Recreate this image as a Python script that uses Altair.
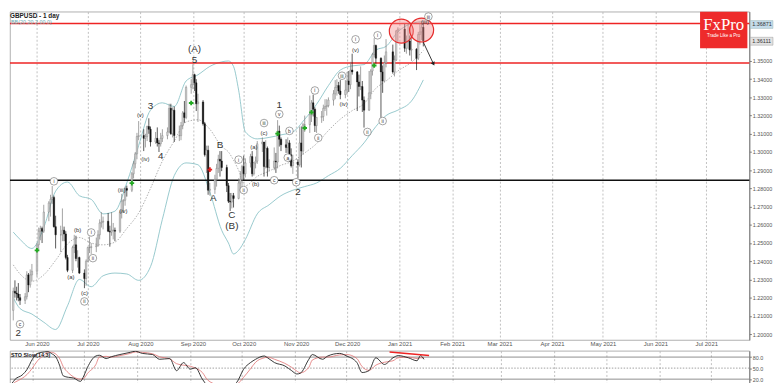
import altair as alt
import pandas as pd

# ---------------- GBPUSD daily candles ----------------
OPEN = [
    # May 2020
    1.2130, 1.2235, 1.2225, 1.2220, 1.2200, 1.2185, 1.2205, 1.2325, 1.2270, 1.2325,
    # Jun
    1.2345, 1.2490, 1.2565, 1.2580, 1.2565, 1.2670, 1.2720, 1.2740, 1.2750, 1.2590, 1.2545,
    1.2545, 1.2570, 1.2550, 1.2420, 1.2350, 1.2475, 1.2490, 1.2415, 1.2420, 1.2335, 1.2305,
    # Jul
    1.2400, 1.2475, 1.2475, 1.2480, 1.2485, 1.2545, 1.2610, 1.2615, 1.2620, 1.2565, 1.2560, 1.2570,
    1.2570, 1.2565, 1.2670, 1.2730, 1.2735, 1.2800, 1.2790, 1.2880, 1.2935, 1.2990, 1.3085,
    # Aug
    1.3090, 1.3075, 1.3085, 1.3140, 1.3125, 1.3055, 1.3075, 1.3050, 1.3045, 1.3075, 1.3090,
    1.3110, 1.3240, 1.3100, 1.3230, 1.3090, 1.3090, 1.3145, 1.3215, 1.3190, 1.3355,
    # Sep
    1.3370, 1.3425, 1.3380, 1.3265, 1.3275, 1.3155, 1.2985, 1.3010, 1.2790, 1.2795, 1.2850,
    1.2910, 1.2960, 1.2950, 1.2915, 1.2815, 1.2730, 1.2725, 1.2760, 1.2745, 1.2830, 1.2850,
    # Oct
    1.2920, 1.2880, 1.2940, 1.2975, 1.2880, 1.2940, 1.2950, 1.3045, 1.3055, 1.2920, 1.3020,
    1.2915, 1.2915, 1.2950, 1.2945, 1.3115, 1.3070, 1.3040, 1.3025, 1.3050, 1.2985, 1.2925,
    # Nov
    1.2945, 1.2930, 1.3050, 1.3005, 1.3150, 1.3150, 1.3205, 1.3270, 1.3235, 1.3145, 1.3190,
    1.3195, 1.3240, 1.3250, 1.3255, 1.3285, 1.3320, 1.3355, 1.3365, 1.3335, 1.3315,
    # Dec
    1.3340, 1.3390, 1.3370, 1.3450, 1.3440, 1.3385, 1.3360, 1.3360, 1.3285, 1.3230, 1.3325,
    1.3445, 1.3535, 1.3585, 1.3515, 1.3440, 1.3390, 1.3490, 1.3550, 1.3440, 1.3505, 1.3665,
    # Jan 2021
    1.3675, 1.3570, 1.3605, 1.3610, 1.3560, 1.3565, 1.3515, 1.3645, 1.3660, 1.3685,
]
HIGH = [
    1.2255, 1.2295, 1.2260, 1.2280, 1.2220, 1.2225, 1.2345, 1.2335, 1.2355, 1.2385,
    1.2500, 1.2585, 1.2595, 1.2590, 1.2710, 1.2730, 1.2765, 1.2813, 1.2760, 1.2650, 1.2595,
    1.2690, 1.2590, 1.2565, 1.2435, 1.2485, 1.2545, 1.2540, 1.2460, 1.2425, 1.2355, 1.2410,
    1.2480, 1.2535, 1.2500, 1.2530, 1.2570, 1.2630, 1.2670, 1.2645, 1.2665, 1.2595, 1.2670, 1.2610,
    1.2585, 1.2680, 1.2770, 1.2740, 1.2810, 1.2815, 1.2890, 1.2950, 1.3000, 1.3105, 1.3170,
    1.3125, 1.3100, 1.3145, 1.3185, 1.3140, 1.3110, 1.3135, 1.3065, 1.3105, 1.3125, 1.3135,
    1.3265, 1.3265, 1.3245, 1.3250, 1.3145, 1.3165, 1.3225, 1.3280, 1.3365, 1.3400,
    1.3482, 1.3430, 1.3400, 1.3320, 1.3285, 1.3165, 1.3035, 1.3035, 1.2830, 1.2875, 1.2935,
    1.2985, 1.3005, 1.3005, 1.2930, 1.2830, 1.2775, 1.2775, 1.2775, 1.2855, 1.2895, 1.2930,
    1.2980, 1.2965, 1.2990, 1.3005, 1.2945, 1.2975, 1.3060, 1.3080, 1.3055, 1.3065, 1.3030,
    1.2960, 1.3025, 1.2995, 1.3175, 1.3145, 1.3080, 1.3070, 1.3080, 1.3065, 1.3020, 1.2985,
    1.2960, 1.3140, 1.3140, 1.3160, 1.3200, 1.3310, 1.3285, 1.3315, 1.3245, 1.3190, 1.3225,
    1.3260, 1.3290, 1.3290, 1.3300, 1.3340, 1.3395, 1.3400, 1.3385, 1.3395, 1.3395,
    1.3440, 1.3445, 1.3495, 1.3540, 1.3445, 1.3425, 1.3470, 1.3390, 1.3305, 1.3445, 1.3455,
    1.3545, 1.3625, 1.3590, 1.3520, 1.3475, 1.3530, 1.3620, 1.3590, 1.3530, 1.3670, 1.3685,
    1.3703, 1.3640, 1.3705, 1.3640, 1.3625, 1.3570, 1.3660, 1.3710, 1.3710, 1.3710,
]
LOW = [
    1.2075, 1.2200, 1.2185, 1.2180, 1.2160, 1.2165, 1.2190, 1.2230, 1.2255, 1.2290,
    1.2315, 1.2455, 1.2515, 1.2500, 1.2555, 1.2620, 1.2645, 1.2715, 1.2585, 1.2470, 1.2450,
    1.2510, 1.2510, 1.2410, 1.2340, 1.2335, 1.2445, 1.2400, 1.2365, 1.2330, 1.2252, 1.2265,
    1.2395, 1.2445, 1.2440, 1.2450, 1.2480, 1.2520, 1.2585, 1.2575, 1.2560, 1.2480, 1.2540, 1.2520,
    1.2510, 1.2555, 1.2635, 1.2665, 1.2705, 1.2755, 1.2780, 1.2855, 1.2910, 1.2960, 1.3065,
    1.3005, 1.3025, 1.3060, 1.3100, 1.3030, 1.3045, 1.3030, 1.3000, 1.3030, 1.3055, 1.3070,
    1.3105, 1.3095, 1.3080, 1.3055, 1.3060, 1.3065, 1.3125, 1.3160, 1.3180, 1.3320,
    1.3345, 1.3335, 1.3225, 1.3165, 1.3145, 1.2975, 1.2885, 1.2765, 1.2760, 1.2770, 1.2810,
    1.2885, 1.2865, 1.2895, 1.2780, 1.2720, 1.2676, 1.2690, 1.2695, 1.2740, 1.2795, 1.2805,
    1.2845, 1.2860, 1.2915, 1.2865, 1.2870, 1.2910, 1.2935, 1.3000, 1.2865, 1.2910, 1.2865,
    1.2895, 1.2900, 1.2885, 1.2910, 1.3030, 1.3005, 1.2995, 1.2995, 1.2945, 1.2915, 1.2880,
    1.2855, 1.2920, 1.2915, 1.2985, 1.3110, 1.3105, 1.3165, 1.3195, 1.3110, 1.3105, 1.3160,
    1.3170, 1.3225, 1.3200, 1.3245, 1.3255, 1.3290, 1.3310, 1.3320, 1.3290, 1.3295,
    1.3315, 1.3330, 1.3345, 1.3425, 1.3225, 1.3305, 1.3340, 1.3220, 1.3134, 1.3225, 1.3290,
    1.3420, 1.3520, 1.3485, 1.3188, 1.3325, 1.3385, 1.3465, 1.3430, 1.3415, 1.3500, 1.3605,
    1.3550, 1.3540, 1.3565, 1.3530, 1.3500, 1.3450, 1.3505, 1.3590, 1.3615, 1.3580,
]
CLOSE = [
    1.2235, 1.2225, 1.2220, 1.2200, 1.2185, 1.2205, 1.2325, 1.2270, 1.2325, 1.2345,
    1.2490, 1.2565, 1.2580, 1.2565, 1.2670, 1.2720, 1.2740, 1.2750, 1.2590, 1.2545, 1.2545,
    1.2570, 1.2550, 1.2420, 1.2350, 1.2475, 1.2490, 1.2415, 1.2420, 1.2335, 1.2305, 1.2400,
    1.2475, 1.2475, 1.2480, 1.2485, 1.2545, 1.2610, 1.2615, 1.2620, 1.2565, 1.2560, 1.2570, 1.2570,
    1.2565, 1.2670, 1.2730, 1.2735, 1.2800, 1.2790, 1.2880, 1.2935, 1.2990, 1.3085, 1.3090,
    1.3075, 1.3085, 1.3140, 1.3125, 1.3055, 1.3075, 1.3050, 1.3045, 1.3075, 1.3090, 1.3110,
    1.3240, 1.3100, 1.3230, 1.3090, 1.3090, 1.3145, 1.3215, 1.3190, 1.3355, 1.3370,
    1.3425, 1.3380, 1.3265, 1.3275, 1.3155, 1.2985, 1.3010, 1.2790, 1.2795, 1.2850, 1.2910,
    1.2960, 1.2950, 1.2915, 1.2815, 1.2730, 1.2725, 1.2760, 1.2745, 1.2830, 1.2850, 1.2920,
    1.2880, 1.2940, 1.2975, 1.2880, 1.2940, 1.2950, 1.3045, 1.3055, 1.2920, 1.3020, 1.2915,
    1.2915, 1.2950, 1.2945, 1.3115, 1.3070, 1.3040, 1.3025, 1.3050, 1.2985, 1.2925, 1.2945,
    1.2930, 1.3050, 1.3005, 1.3150, 1.3150, 1.3205, 1.3270, 1.3235, 1.3145, 1.3190, 1.3195,
    1.3240, 1.3250, 1.3255, 1.3285, 1.3320, 1.3355, 1.3365, 1.3335, 1.3315, 1.3340,
    1.3390, 1.3370, 1.3450, 1.3440, 1.3385, 1.3360, 1.3360, 1.3285, 1.3230, 1.3325, 1.3445,
    1.3535, 1.3585, 1.3515, 1.3440, 1.3390, 1.3490, 1.3550, 1.3440, 1.3505, 1.3665, 1.3675,
    1.3570, 1.3605, 1.3610, 1.3560, 1.3565, 1.3515, 1.3645, 1.3660, 1.3685, 1.3610,
]
_days = pd.bdate_range("2020-05-18", "2021-01-15")
_days = _days[~_days.isin(pd.to_datetime(["2020-12-25", "2021-01-01"]))]
DATES = [d.strftime("%Y-%m-%d") for d in _days]
assert len(DATES) == len(OPEN) == len(HIGH) == len(LOW) == len(CLOSE)

# ---------------- Bollinger band ----------------
BB_DATES = ["2020-05-18", "2020-05-22", "2020-05-29", "2020-06-05", "2020-06-12", "2020-06-19",
            "2020-06-26", "2020-07-03", "2020-07-10", "2020-07-17", "2020-07-24", "2020-07-31",
            "2020-08-07", "2020-08-14", "2020-08-21", "2020-08-28", "2020-09-04", "2020-09-11",
            "2020-09-18", "2020-09-22", "2020-09-25", "2020-09-28", "2020-10-02", "2020-10-09",
            "2020-10-16", "2020-10-23", "2020-10-30", "2020-11-06", "2020-11-13", "2020-11-20",
            "2020-11-27", "2020-12-04", "2020-12-11", "2020-12-18", "2020-12-24", "2020-12-31",
            "2021-01-08", "2021-01-15"]
BB_UP = [1.256, 1.252, 1.247, 1.2585, 1.2785, 1.2835, 1.276, 1.274, 1.266, 1.2675, 1.283, 1.3035,
         1.323, 1.327, 1.325, 1.339, 1.3424, 1.347, 1.3495, 1.350, 1.347, 1.334, 1.311, 1.3072,
         1.308, 1.3094, 1.311, 1.318, 1.3262, 1.3365, 1.345, 1.3473, 1.348, 1.356, 1.358, 1.366,
         1.3706, 1.3717]
BB_MID = [1.238, 1.233, 1.229, 1.2325, 1.2405, 1.2495, 1.253, 1.250, 1.249, 1.2505, 1.258, 1.2665,
          1.280, 1.295, 1.306, 1.3165, 1.3177, 1.3125, 1.303, 1.300, 1.2955, 1.290, 1.2815, 1.2866,
          1.2895, 1.2927, 1.295, 1.2995, 1.3046, 1.3118, 1.318, 1.3227, 1.3265, 1.335, 1.339,
          1.3445, 1.3493, 1.3557]
BB_LO = [1.220, 1.214, 1.211, 1.2065, 1.2025, 1.2155, 1.230, 1.226, 1.232, 1.2335, 1.233, 1.2295,
         1.237, 1.263, 1.287, 1.294, 1.293, 1.278, 1.257, 1.250, 1.244, 1.246, 1.252, 1.266,
         1.271, 1.276, 1.279, 1.281, 1.283, 1.287, 1.291, 1.298, 1.305, 1.314, 1.320, 1.323,
         1.328, 1.3396]
assert len(BB_DATES) == len(BB_UP) == len(BB_MID) == len(BB_LO)

# ---------------- Stochastic slow ----------------
STO_DATES = ["2020-05-18", "2020-05-20", "2020-05-22", "2020-05-26", "2020-05-29",
             "2020-06-01", "2020-06-04", "2020-06-08", "2020-06-10", "2020-06-12", "2020-06-15",
             "2020-06-17", "2020-06-19", "2020-06-22", "2020-06-25", "2020-06-29",
             "2020-07-01", "2020-07-03", "2020-07-08", "2020-07-10", "2020-07-14", "2020-07-17",
             "2020-07-22", "2020-07-28", "2020-07-31",
             "2020-08-04", "2020-08-10", "2020-08-14", "2020-08-20", "2020-08-24", "2020-08-28",
             "2020-09-01", "2020-09-04", "2020-09-08", "2020-09-11", "2020-09-17", "2020-09-24",
             "2020-09-28",
             "2020-10-02", "2020-10-06", "2020-10-09", "2020-10-14", "2020-10-16", "2020-10-20",
             "2020-10-26", "2020-10-30",
             "2020-11-02", "2020-11-04", "2020-11-09", "2020-11-11", "2020-11-17", "2020-11-20",
             "2020-11-27",
             "2020-12-01", "2020-12-07", "2020-12-10", "2020-12-14", "2020-12-18", "2020-12-23",
             "2020-12-28", "2020-12-31",
             "2021-01-06", "2021-01-11", "2021-01-13", "2021-01-15"]
STO_K = [3, 8, 20, 31, 47,
         74, 90, 94, 95, 90, 78, 56, 29, 25, 23, 14,
         29, 51, 83, 85, 76, 81, 87, 93, 96,
         90, 87, 74, 76, 43, 65,
         47, 51, 20, 4, 1, 1, 11,
         47, 65, 74, 83, 78, 65, 56, 43,
         34, 36, 74, 87, 74, 83, 90,
         83, 65, 38, 43, 78, 60, 78, 84,
         78, 70, 84, 74]
STO_D = [6, 6, 12, 22, 33,
         50, 70, 86, 93, 93, 87, 75, 54, 37, 26, 20,
         22, 35, 60, 80, 82, 80, 84, 90, 94,
         93, 89, 81, 75, 62, 58,
         55, 50, 38, 18, 5, 2, 6,
         25, 48, 66, 78, 80, 74, 63, 52,
         42, 37, 52, 72, 80, 80, 86,
         87, 76, 54, 44, 58, 66, 70, 78,
         80, 76, 78, 78]
assert len(STO_DATES) == len(STO_K) == len(STO_D)
STO_TREND_DATES = ["2020-12-26", "2021-01-18"]
STO_TREND_VALS = [93.6, 84.5]
STO_LEVELS = [80, 50, 20]
STO_LEVEL_STYLE = ["solid", "dot", "solid"]

# ---------------- levels, annotations ----------------
RED_LEVELS = [1.3706, 1.3489]
BLACK_LEVELS = [1.2845]
PRICE_TICKS = [1.20, 1.21, 1.22, 1.23, 1.24, 1.25, 1.26, 1.27, 1.28, 1.29, 1.30, 1.31,
               1.32, 1.33, 1.34, 1.35]
MONTHS = ["2020-06-01", "2020-07-01", "2020-08-01", "2020-09-01", "2020-10-01", "2020-11-01",
          "2020-12-01", "2021-01-01", "2021-02-01", "2021-03-01", "2021-04-01", "2021-05-01",
          "2021-06-01", "2021-07-01"]

BIG_TEXT = ["2", "(A)", "5", "3", "4", "A", "B", "C", "(B)", "1", "2"]
BIG_DATE = ["2020-05-21", "2020-09-02", "2020-09-02", "2020-08-07", "2020-08-13", "2020-09-13",
            "2020-09-17", "2020-09-24", "2020-09-24", "2020-10-22", "2020-11-02"]
BIG_PRICE = [1.2005, 1.3565, 1.3505, 1.3251, 1.2980, 1.2747, 1.3040, 1.2655, 1.2596, 1.3256, 1.2780]

CIRC_TEXT = ["c", "i", "ii", "i", "ii", "i", "ii", "iii", "c", "v", "b", "a", "c", "i", "ii",
             "iii", "i", "ii", "i", "ii", "iii"]
CIRC_DATE = ["2020-05-22", "2020-06-11", "2020-06-29", "2020-07-03", "2020-07-04", "2020-09-28",
             "2020-10-01", "2020-10-13", "2020-10-19", "2020-10-22", "2020-10-28", "2020-10-27",
             "2020-11-01", "2020-11-12", "2020-11-14", "2020-11-28", "2020-12-06", "2020-12-13",
             "2020-12-19", "2020-12-22", "2021-01-18"]
CIRC_PRICE = [1.2054, 1.2839, 1.2179, 1.2558, 1.2417, 1.2958, 1.2791, 1.3159, 1.2845, 1.3208,
              1.3116, 1.2969, 1.2834, 1.3338, 1.3078, 1.3419, 1.3619, 1.3110, 1.3641, 1.3170,
              1.3744]

PAREN_TEXT = ["(a)", "(b)", "(c)", "(iii)", "(iv)", "(v)", "(iv)", "(a)", "(b)", "(c)", "(iv)",
              "(v)", "(iii)"]
PAREN_DATE = ["2020-06-21", "2020-06-25", "2020-06-29", "2020-07-21", "2020-07-22", "2020-08-01",
              "2020-08-04", "2020-10-07", "2020-10-08", "2020-10-13", "2020-11-29", "2020-12-06",
              "2021-01-16"]
PAREN_PRICE = [1.2314, 1.2569, 1.2227, 1.2791, 1.2677, 1.3202, 1.2964, 1.3029, 1.2823, 1.3105,
               1.3262, 1.3560, 1.3712]

CROSS_DATE = ["2020-06-01", "2020-07-27", "2020-08-31", "2020-10-21", "2020-11-06", "2020-11-10",
              "2020-12-17", "2020-09-11"]
CROSS_PRICE = [1.2460, 1.2829, 1.3269, 1.3101, 1.3132, 1.3218, 1.3475, 1.2903]
CROSS_KIND = ["up", "up", "up", "up", "up", "up", "up", "down"]

HILITE_DATE = ["2021-01-02", "2021-01-14"]
HILITE_PRICE = [1.3664, 1.3670]
ARROW_DATE = ["2021-01-15", "2021-01-21"]
ARROW_PRICE = [1.3603, 1.3484]

PRICE_BOX_TEXT = ["1.36871", "1.36111"]


def ms(s):
    return int(pd.Timestamp(s, tz="UTC").value // 10**6)


XS = alt.Scale(type="utc", domain=[ms("2020-05-18T23:17"), ms("2021-07-23T12:00")])
YS = alt.Scale(domain=[1.19675, 1.37708], nice=False, zero=False)
XAX = alt.Axis(values=[ms(m) for m in MONTHS], labelExpr="utcFormat(datum.value, '%b %Y')",
               grid=True, gridDash=[2, 2], gridColor="#b0b0b0", gridWidth=0.8, ticks=False,
               domain=False, labelFontSize=6, labelColor="#555555", labelPadding=1,
               title=None, labelFlush=False, minExtent=0, maxExtent=7)
YAX = alt.Axis(orient="right", values=PRICE_TICKS, format=".5f", grid=False, tickSize=2,
               labelFontSize=5.5, labelPadding=1, labelColor="#555555", domainColor="#777777",
               tickColor="#777777", title=None)


def X(field="date"):
    return alt.X(f"{field}:T", scale=XS, axis=XAX)


def Y(field):
    return alt.Y(f"{field}:Q", scale=YS, axis=YAX)


candles = pd.DataFrame({"date": DATES, "open": OPEN, "high": HIGH, "low": LOW, "close": CLOSE})
is_up = "datum.close >= datum.open"
wick = alt.Chart(candles).mark_rule(strokeWidth=0.7, clip=True).encode(
    x=X(), y=Y("low"), y2="high:Q",
    color=alt.condition(is_up, alt.value("#7a7a7a"), alt.value("#111111")))
body = alt.Chart(candles).mark_bar(size=1.5, clip=True, strokeWidth=0.4).encode(
    x=X(), y=Y("open"), y2="close:Q",
    fill=alt.condition(is_up, alt.value("#d6d6d6"), alt.value("#111111")),
    stroke=alt.condition(is_up, alt.value("#7a7a7a"), alt.value("#111111")))

bb = pd.DataFrame({"date": BB_DATES * 2, "value": BB_UP + BB_LO,
                   "band": ["up"] * len(BB_DATES) + ["lo"] * len(BB_DATES)})
bb_lines = alt.Chart(bb).mark_line(color="#8cc3c8", strokeWidth=0.9, clip=True,
                                   interpolate="monotone").encode(
    x=X(), y=Y("value"), detail="band:N")
bb_mid = alt.Chart(pd.DataFrame({"date": BB_DATES, "value": BB_MID})).mark_line(
    color="#9a9a9a", strokeWidth=0.8, strokeDash=[1.5, 1.5], clip=True,
    interpolate="monotone").encode(x=X(), y=Y("value"))

red_lv = alt.Chart(pd.DataFrame({"p": RED_LEVELS})).mark_rule(
    color="#ee2424", strokeWidth=1.6).encode(y=Y("p"))
black_lv = alt.Chart(pd.DataFrame({"p": BLACK_LEVELS})).mark_rule(
    color="#111111", strokeWidth=1.4).encode(y=Y("p"))

crosses = alt.Chart(pd.DataFrame({"date": CROSS_DATE, "p": CROSS_PRICE, "k": CROSS_KIND})).mark_point(
    shape="cross", filled=True, size=22, opacity=1).encode(
    x=X(), y=Y("p"),
    color=alt.Color("k:N", scale=alt.Scale(domain=["up", "down"], range=["#22aa22", "#e02020"]),
                    legend=None))

hilite = alt.Chart(pd.DataFrame({"date": HILITE_DATE, "p": HILITE_PRICE})).mark_circle(
    size=590, color="#f28c8c", fillOpacity=0.42, stroke="#e52b2b", strokeWidth=1.2,
    strokeOpacity=1).encode(x=X(), y=Y("p"))

arrow_df = pd.DataFrame({"date": ARROW_DATE, "p": ARROW_PRICE})
arrow_line = alt.Chart(arrow_df).mark_line(color="#222222", strokeWidth=0.9).encode(
    x=X(), y=Y("p"))
arrow_head = alt.Chart(arrow_df.iloc[[1]]).mark_point(
    shape="triangle-down", filled=True, size=20, color="#222222", angle=333, opacity=1).encode(
    x=X(), y=Y("p"))

big = alt.Chart(pd.DataFrame({"date": BIG_DATE, "p": BIG_PRICE, "t": BIG_TEXT})).mark_text(
    fontSize=10, color="#333333", baseline="middle").encode(x=X(), y=Y("p"), text="t:N")
circ_df = pd.DataFrame({"date": CIRC_DATE, "p": CIRC_PRICE, "t": CIRC_TEXT})
circ = alt.Chart(circ_df).mark_point(shape="circle", size=60, filled=True, fill="white",
                                     stroke="#666666", strokeWidth=0.6, opacity=1).encode(
    x=X(), y=Y("p"))
circ_t = alt.Chart(circ_df).mark_text(fontSize=5, color="#333333", baseline="middle").encode(
    x=X(), y=Y("p"), text="t:N")
paren = alt.Chart(pd.DataFrame({"date": PAREN_DATE, "p": PAREN_PRICE, "t": PAREN_TEXT})).mark_text(
    fontSize=6, color="#333333", baseline="middle").encode(x=X(), y=Y("p"), text="t:N")

one = pd.DataFrame({"t": ["GBPUSD - 1 day"]})
title1 = alt.Chart(one).mark_text(fontSize=6.5, fontWeight="bold", color="#222222",
                                  align="left", baseline="top").encode(
    x=alt.value(0), y=alt.value(1), text="t:N")
title2 = alt.Chart(pd.DataFrame({"t": ["BB(20,20,2.00,0)"]})).mark_text(
    fontSize=5.5, color="#6aaab0", align="left", baseline="top").encode(
    x=alt.value(1), y=alt.value(9), text="t:N")

fx_box = alt.Chart(pd.DataFrame({"a": [1]})).mark_rect(color="#ee2b2b").encode(
    x=alt.value(700), x2=alt.value(748), y=alt.value(0), y2=alt.value(37))
fx_t1 = alt.Chart(pd.DataFrame({"t": ["FxPro"]})).mark_text(
    font="Liberation Serif", fontSize=17, color="white", baseline="middle").encode(
    x=alt.value(724), y=alt.value(14), text="t:N")
fx_t2 = alt.Chart(pd.DataFrame({"t": ["Trade Like a Pro"]})).mark_text(
    fontSize=4.6, color="white", baseline="middle").encode(
    x=alt.value(724), y=alt.value(25), text="t:N")

pb1 = alt.Chart(pd.DataFrame({"a": [1]})).mark_rect(color="#c4dcea", stroke="#88aaaa", strokeWidth=0.4).encode(
    x=alt.value(751), x2=alt.value(774), y=alt.value(9), y2=alt.value(17))
pb1t = alt.Chart(pd.DataFrame({"t": [PRICE_BOX_TEXT[0]]})).mark_text(
    fontSize=5.5, color="#333333", align="left", baseline="middle").encode(
    x=alt.value(753), y=alt.value(13), text="t:N")
pb2 = alt.Chart(pd.DataFrame({"a": [1]})).mark_rect(color="#e2e2e2", stroke="#888888", strokeWidth=0.4).encode(
    x=alt.value(751), x2=alt.value(774), y=alt.value(26), y2=alt.value(34))
pb2t = alt.Chart(pd.DataFrame({"t": [PRICE_BOX_TEXT[1]]})).mark_text(
    fontSize=5.5, color="#333333", align="left", baseline="middle").encode(
    x=alt.value(753), y=alt.value(30), text="t:N")

main = alt.layer(
    bb_lines, bb_mid, red_lv, black_lv, wick, body, crosses, hilite, arrow_line, arrow_head,
    big, circ, circ_t, paren, title1, title2, fx_box, fx_t1, fx_t2, pb1, pb1t, pb2, pb2t
).properties(width=750, height=333)

# ---------------- stochastic panel ----------------
YS2 = alt.Scale(domain=[5.9, 97.1], nice=False, zero=False)
XAX2 = alt.Axis(values=[ms(m) for m in MONTHS], grid=True, gridDash=[2, 2], gridColor="#b0b0b0",
                gridWidth=0.8, ticks=False, domain=False, labels=False, title=None,
                minExtent=0, maxExtent=0)
YAX2 = alt.Axis(orient="right", values=STO_LEVELS, format=".1f", grid=False, tickSize=2,
                labelFontSize=5.5, labelPadding=1, labelColor="#555555", domainColor="#777777",
                tickColor="#777777", title=None)


def X2():
    return alt.X("date:T", scale=XS, axis=XAX2)


def Y2(f):
    return alt.Y(f"{f}:Q", scale=YS2, axis=YAX2)


lv = pd.DataFrame({"v": STO_LEVELS, "s": STO_LEVEL_STYLE})
lv_solid = alt.Chart(lv[lv.s == "solid"]).mark_rule(color="#707070", strokeWidth=0.8).encode(y=Y2("v"))
lv_dot = alt.Chart(lv[lv.s == "dot"]).mark_rule(color="#888888", strokeWidth=0.8,
                                                 strokeDash=[1.5, 1.5]).encode(y=Y2("v"))
sto = pd.DataFrame({"date": STO_DATES, "k": STO_K, "d": STO_D})
d_line = alt.Chart(sto).mark_line(color="#e07070", strokeWidth=0.8, clip=True,
                                  interpolate="monotone").encode(x=X2(), y=Y2("d"))
k_line = alt.Chart(sto).mark_line(color="#222222", strokeWidth=0.9, clip=True,
                                  interpolate="monotone").encode(x=X2(), y=Y2("k"))
trend = alt.Chart(pd.DataFrame({"date": STO_TREND_DATES, "v": STO_TREND_VALS})).mark_line(
    color="#ee2424", strokeWidth=1.5).encode(x=X2(), y=Y2("v"))
sto_lab = alt.Chart(pd.DataFrame({"t": ["STO Slow(14,3)"]})).mark_text(
    fontSize=5.5, fontWeight="bold", color="#222222", align="left", baseline="top").encode(
    x=alt.value(1), y=alt.value(2), text="t:N")

stoch = alt.layer(lv_solid, lv_dot, d_line, k_line, trend, sto_lab).properties(width=750, height=34)

chart = alt.vconcat(main, stoch, spacing=0).properties(padding=0).configure(
    font="Liberation Sans", background="white"
).configure_view(stroke="#9a9a9a", strokeWidth=0.8)

chart.save("out.html", embed_options={"renderer": "svg", "actions": False})
